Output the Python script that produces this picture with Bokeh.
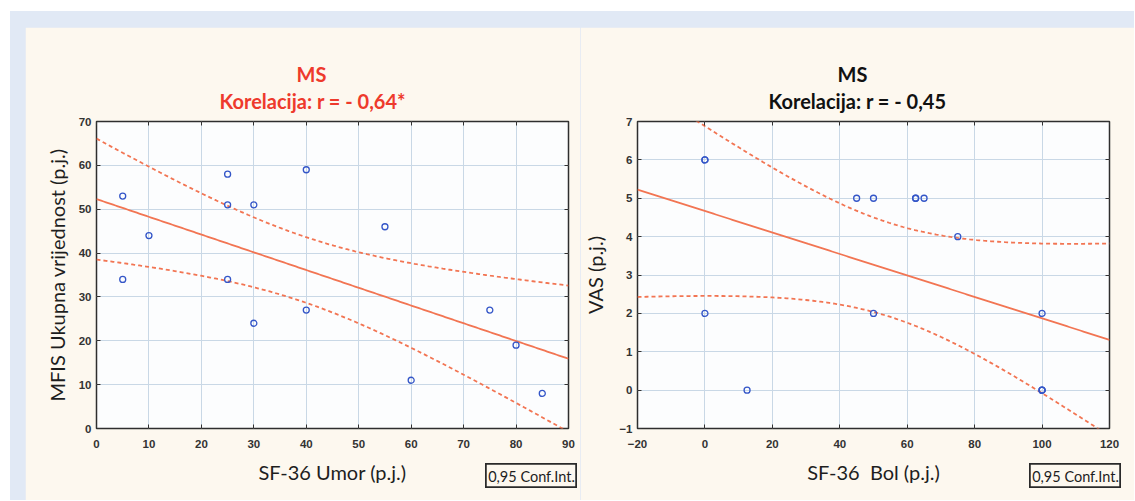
import numpy as np
from bokeh.plotting import figure
from bokeh.models import Range1d, LinearAxis, FixedTicker, Title
from bokeh.layouts import row, column
from bokeh.embed import file_html
from bokeh.resources import INLINE
from bokeh.core.properties import value

# ---------------- data ----------------
umor_x = [5, 5, 10, 25, 25, 25, 30, 30, 40, 40, 55, 60, 75, 80, 85]
mfis_y = [53, 34, 44, 58, 51, 34, 51, 24, 59, 27, 46, 11, 27, 19, 8]

# (some points coincide on the chart)
bol_x = [0, 0, 0, 12.5, 45, 50, 50, 62.5, 62.5, 65, 75, 100, 100, 100, 100]
vas_y = [6, 6, 2, 0, 5, 5, 2, 5, 5, 5, 4, 2, 0, 0, 0]

left_x_range = (0, 90)
left_y_range = (0, 70)
left_xticks = [0, 10, 20, 30, 40, 50, 60, 70, 80, 90]
left_yticks = [0, 10, 20, 30, 40, 50, 60, 70]

right_x_range = (-20, 120)
right_y_range = (-1, 7)
right_xticks = [-20, 0, 20, 40, 60, 80, 100, 120]
right_yticks = [-1, 0, 1, 2, 3, 4, 5, 6, 7]

left_title = ["MS", "Korelacija: r = - 0,64*"]
right_title = ["MS", "Korelacija: r = - 0,45"]
left_xlabel = "SF-36 Umor (p.j.)"
left_ylabel = "MFIS Ukupna vrijednost (p.j.)"
right_xlabel = "SF-36 \u00a0Bol (p.j.)"
right_ylabel = "VAS (p.j.)"
ci_label = "0,95 Conf.Int."

# two-sided 95% Student t critical values by degrees of freedom
T_CRIT_975 = {13: 2.1604}

# ---------------- style ----------------
BLUE_BG = "#e1e9f5"
CREAM = "#fdf8ef"
FRAME_BG = "#fcfdfe"
GRID = "#c9d8e6"
LINE_COL = "#f27553"
PT_COL = "#3456c8"
DARK = "#333333"
FIG_H = 473


def fit_with_ci(x, y, xs):
    x = np.asarray(x, float)
    y = np.asarray(y, float)
    n = len(x)
    b, a = np.polyfit(x, y, 1)
    resid = y - (a + b * x)
    s = np.sqrt(np.sum(resid ** 2) / (n - 2))
    sxx = np.sum((x - x.mean()) ** 2)
    yhat = a + b * xs
    se = s * np.sqrt(1.0 / n + (xs - x.mean()) ** 2 / sxx)
    t = T_CRIT_975[n - 2]
    return yhat, yhat - t * se, yhat + t * se


def tick_only_axis(ticks):
    return LinearAxis(ticker=FixedTicker(ticks=ticks), axis_line_color=None,
                      major_tick_in=4, major_tick_out=0, major_tick_line_color=DARK,
                      minor_tick_line_color=None,
                      major_label_overrides={t: "" for t in ticks},
                      major_label_text_font_size="1px", major_label_standoff=0)


def make_panel(x, y, xr, yr, xticks, yticks, title, title_color, xlabel, ylabel,
               width, mbl, mbr, title_offsets, ylab_standoff):
    p = figure(width=width, height=FIG_H, output_backend="svg", toolbar_location=None,
               x_range=Range1d(*xr), y_range=Range1d(*yr),
               min_border_left=mbl, min_border_right=mbr,
               min_border_top=94, min_border_bottom=FIG_H - 401)
    p.border_fill_color = CREAM
    p.background_fill_color = FRAME_BG
    p.outline_line_color = "#2e2e2e"
    p.outline_line_width = 1.5

    for ax, ticks in ((p.xaxis[0], xticks), (p.yaxis[0], yticks)):
        ax.ticker = FixedTicker(ticks=ticks)
        ax.axis_line_color = None
        ax.major_tick_in = 4
        ax.major_tick_out = 0
        ax.major_tick_line_color = DARK
        ax.minor_tick_line_color = None
        ax.major_label_text_font = "Liberation Sans"
        ax.major_label_text_font_style = "bold"
        ax.major_label_text_font_size = "11.5px"
        ax.major_label_text_color = DARK
        ax.axis_label_text_font = "Lato"
        ax.axis_label_text_font_style = "normal"
        ax.axis_label_text_font_size = "20px"
        ax.axis_label_text_color = "#1e1e1e"
    p.xaxis[0].axis_label = xlabel
    p.yaxis[0].axis_label = ylabel
    p.xaxis[0].major_label_standoff = 11
    p.xaxis[0].axis_label_standoff = 9
    p.yaxis[0].major_label_standoff = 5
    p.yaxis[0].axis_label_standoff = ylab_standoff

    p.add_layout(tick_only_axis(xticks), "above")
    p.add_layout(tick_only_axis(yticks), "right")

    # titles (first added sits nearest the frame)
    p.add_layout(Title(text=title[1], align="left", offset=title_offsets[1],
                       vertical_align="bottom", standoff=18,
                       text_font="Lato", text_font_style="bold",
                       text_font_size="20px", text_color=title_color), "above")
    p.add_layout(Title(text=title[0], align="left", offset=title_offsets[0],
                       vertical_align="bottom", standoff=-16,
                       text_font="Lato", text_font_style="bold",
                       text_font_size="20px", text_color=title_color), "above")

    p.xgrid.ticker = FixedTicker(ticks=xticks)
    p.ygrid.ticker = FixedTicker(ticks=yticks)
    p.grid.grid_line_color = GRID
    p.grid.grid_line_width = 1

    xs = np.linspace(xr[0], xr[1], 200)
    yhat, lo, hi = fit_with_ci(x, y, xs)
    p.line(xs, yhat, line_color=LINE_COL, line_width=1.8)
    p.line(xs, lo, line_color=LINE_COL, line_width=1.8, line_dash="4 3")
    p.line(xs, hi, line_color=LINE_COL, line_width=1.8, line_dash="4 3")

    p.scatter(x, y, marker="circle", size=6, fill_color=None,
              line_color=PT_COL, line_width=1.3)
    return p


def make_ci_box():
    b = figure(width=92, height=25, output_backend="svg", toolbar_location=None,
               x_range=Range1d(0, 1), y_range=Range1d(0, 1),
               min_border=0, min_border_left=0, min_border_right=0,
               min_border_top=0, min_border_bottom=0)
    b.axis.visible = False
    b.grid.visible = False
    b.background_fill_color = CREAM
    b.border_fill_color = CREAM
    b.outline_line_color = "#2a2a2a"
    b.outline_line_width = 2.5
    b.text(x=[0.5], y=[0.5], text=[ci_label], text_align="center",
           text_baseline="middle", text_font=value("Lato"),
           text_font_size="14.5px", text_color="#1e1e1e")
    return b


p1 = make_panel(umor_x, mfis_y, left_x_range, left_y_range, left_xticks, left_yticks,
                left_title, "#ee3a2c", left_xlabel, left_ylabel,
                width=555, mbl=71, mbr=12, title_offsets=(200, 123), ylab_standoff=7)
p2 = make_panel(bol_x, vas_y, right_x_range, right_y_range, right_xticks, right_yticks,
                right_title, "#111111", right_xlabel, right_ylabel,
                width=554, mbl=57, mbr=25, title_offsets=(200, 131), ylab_standoff=9)

# wrap the boxes in rows so they are not frame-aligned with the plots above them
box_row1 = row(make_ci_box(), margin=(-37, 0, 12, 460))
box_row2 = row(make_ci_box(), margin=(-37, 0, 12, 449))

col1 = column(p1, box_row1, margin=(16, 0, 0, 15))
col2 = column(p2, box_row2, margin=(16, 0, 0, 0))

layout = row(col1, col2, styles={"background-color": BLUE_BG}, margin=(11, 0, 0, 10))

open("out.html", "w").write(file_html(layout, INLINE))
